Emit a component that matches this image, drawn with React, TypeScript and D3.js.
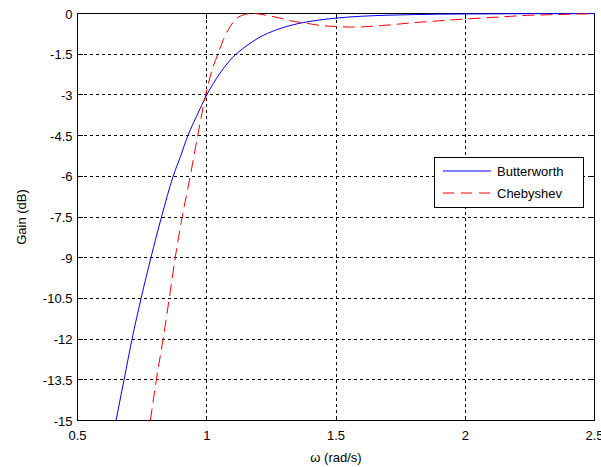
import React from "react";
import * as d3 from "d3";

// --- values ---
const xTicks = [0.5, 1, 1.5, 2, 2.5];
const yTicks = [0, -1.5, -3, -4.5, -6, -7.5, -9, -10.5, -12, -13.5, -15];

const butterOmega = [0.649, 0.68, 0.711, 0.746, 0.784, 0.825, 0.87, 0.899, 0.927, 0.96, 1.0, 1.05, 1.1, 1.15, 1.2, 1.27, 1.35, 1.4, 1.5, 1.6, 1.7, 1.8, 2.0, 2.2, 2.5];
const butterGain = [-15, -13.5, -12, -10.5, -9, -7.5, -6, -5.25, -4.5, -3.8, -3, -2.22, -1.62, -1.22, -0.9, -0.6, -0.38, -0.29, -0.17, -0.1, -0.063, -0.04, -0.017, -0.008, -0.002];

const chebyOmega = [0.782, 0.805, 0.831, 0.855, 0.878, 0.905, 0.936, 0.965, 0.996, 1.02, 1.043, 1.065, 1.083, 1.1, 1.117, 1.14, 1.16, 1.18, 1.21, 1.25, 1.284, 1.32, 1.387, 1.438, 1.5, 1.55, 1.605, 1.708, 1.786, 1.9, 2.005, 2.13, 2.236, 2.35, 2.43, 2.5];
const chebyGain = [-15, -13.5, -12, -10.5, -9, -7.5, -6, -4.5, -3, -2.1, -1.5, -0.95, -0.6, -0.35, -0.17, -0.06, -0.01, 0, -0.03, -0.1, -0.17, -0.26, -0.36, -0.44, -0.48, -0.5, -0.49, -0.42, -0.35, -0.27, -0.2, -0.13, -0.07, -0.04, -0.02, -0.01];

const series = [
  { name: "Butterworth", omega: butterOmega, gain: butterGain, color: "#0000ff", dash: "none" },
  { name: "Chebyshev", omega: chebyOmega, gain: chebyGain, color: "#ff0000", dash: "12,6" },
];

const W = 601;
const H = 467;
const left = 77.5, right = 594.5, top = 13.5, bottom = 420.5;
const font = "Arial, 'Liberation Sans', sans-serif";

export default function App() {
  const x = d3.scaleLinear().domain([0.5, 2.5]).range([left, right]);
  const y = d3.scaleLinear().domain([-15, 0]).range([bottom, top]);

  const line = d3
    .line<[number, number]>()
    .x(d => x(d[0]))
    .y(d => y(d[1]))
    .curve(d3.curveMonotoneX);

  const tickLen = 5;

  return (
    <svg width={W} height={H} style={{ position: "absolute", left: 0, top: 0, background: "#fff" }} fontFamily={font}>
      <defs>
        <clipPath id="plot">
          <rect x={left - 1} y={top - 1} width={right - left + 2} height={bottom - top + 2} />
        </clipPath>
      </defs>

      {/* grid */}
      <g stroke="#000" strokeDasharray="3,3" strokeWidth={1} shapeRendering="crispEdges">
        {xTicks.slice(1, -1).map(t => (
          <line key={"gx" + t} x1={x(t)} x2={x(t)} y1={top} y2={bottom} />
        ))}
        {yTicks.slice(1, -1).map(t => (
          <line key={"gy" + t} x1={left} x2={right} y1={y(t)} y2={y(t)} />
        ))}
      </g>

      {/* ticks */}
      <g stroke="#000" strokeWidth={1} shapeRendering="crispEdges">
        {xTicks.map(t => (
          <g key={"tx" + t}>
            <line x1={x(t)} x2={x(t)} y1={bottom} y2={bottom - tickLen} />
            <line x1={x(t)} x2={x(t)} y1={top} y2={top + tickLen} />
          </g>
        ))}
        {yTicks.map(t => (
          <g key={"ty" + t}>
            <line x1={left} x2={left + tickLen} y1={y(t)} y2={y(t)} />
            <line x1={right} x2={right - tickLen} y1={y(t)} y2={y(t)} />
          </g>
        ))}
      </g>

      {/* frame */}
      <rect x={left} y={top} width={right - left} height={bottom - top} fill="none" stroke="#000" strokeWidth={1} shapeRendering="crispEdges" />

      {/* curves */}
      <g clipPath="url(#plot)">
        {series.map(s => (
          <path
            key={s.name}
            d={line(s.omega.map((w, i) => [w, s.gain[i]] as [number, number])) || ""}
            fill="none"
            stroke={s.color}
            strokeWidth={1}
            strokeDasharray={s.dash}
          />
        ))}
      </g>

      {/* tick labels */}
      <g fontSize={13} fill="#000">
        {xTicks.map(t => (
          <text key={"lx" + t} x={x(t)} y={bottom + 19} textAnchor="middle">
            {t}
          </text>
        ))}
        {yTicks.map(t => (
          <text key={"ly" + t} x={left - 5} y={y(t) + 5} textAnchor="end">
            {t}
          </text>
        ))}
      </g>

      {/* axis labels */}
      <text x={(left + right) / 2} y={462} textAnchor="middle" fontSize={13}>
        ω (rad/s)
      </text>
      <text transform={`translate(26,${(top + bottom) / 2}) rotate(-90)`} textAnchor="middle" fontSize={13}>
        Gain (dB)
      </text>

      {/* legend */}
      <g>
        <rect x={434.5} y={157.5} width={149} height={50} fill="#fff" stroke="#000" strokeWidth={1} shapeRendering="crispEdges" />
        {series.map((s, i) => {
          const ly = 171 + i * 22;
          return (
            <g key={"lg" + s.name}>
              <line x1={443} x2={491} y1={ly} y2={ly} stroke={s.color} strokeWidth={1} strokeDasharray={s.dash === "none" ? undefined : "11,7"} />
              <text x={497} y={ly + 5} fontSize={13}>
                {s.name}
              </text>
            </g>
          );
        })}
      </g>
    </svg>
  );
}
